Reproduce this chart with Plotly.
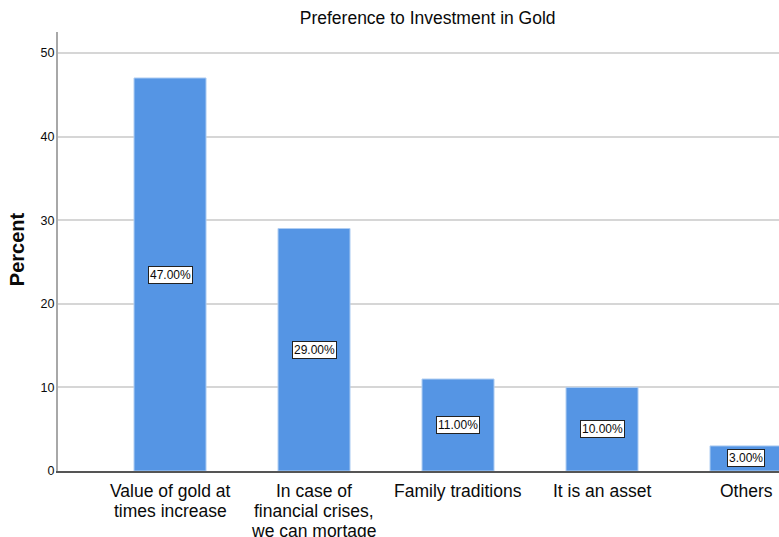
import plotly.graph_objects as go

# Survey responses: reasons for preferring investment in gold
categories = [
    "Value of gold at<br>times increase",
    "In case of<br>financial crises,<br>we can mortage",
    "Family traditions",
    "It is an asset",
    "Others",
]
percent = [47.0, 29.0, 11.0, 10.0, 3.0]
y_ticks = [0, 10, 20, 30, 40, 50]

FONT = "Liberation Sans, Arial, sans-serif"
BAR_FILL = "#5595E4"
BAR_EDGE = "#AFCDF2"
TEXT = "#0A0A0A"

fig = go.Figure()
fig.add_trace(go.Bar(
    x=list(range(len(categories))),
    y=percent,
    width=0.5,
    marker=dict(color=BAR_FILL, line=dict(color=BAR_EDGE, width=1)),
    hoverinfo="skip",
))

# Boxed value labels in the middle of each bar
for i, v in enumerate(percent):
    fig.add_annotation(
        x=i, y=v / 2, xref="x", yref="y",
        text=f"{v:.2f}%", showarrow=False,
        font=dict(family=FONT, size=12, color=TEXT),
        bgcolor="white", bordercolor="#222222", borderwidth=1, borderpad=1,
    )

# Category labels under the axis, one line at a time for tight line spacing
for i, label in enumerate(categories):
    for k, line in enumerate(label.split("<br>")):
        fig.add_annotation(
            x=i, y=0, xref="x", yref="y",
            text=line, showarrow=False,
            font=dict(family=FONT, size=17.5, color=TEXT),
            xanchor="center", yanchor="middle",
            borderpad=0,
            yshift=-(20 + 20 * k),
        )

# Vertical axis title
fig.add_annotation(
    x=-0.057, y=0.505, xref="paper", yref="paper",
    text="<b>Percent</b>", textangle=-90, showarrow=False,
    font=dict(family=FONT, size=20, color=TEXT),
    xanchor="center", yanchor="middle",
)

fig.update_layout(
    width=779, height=537,
    margin=dict(l=58, r=0, t=32, b=66),
    paper_bgcolor="white", plot_bgcolor="white",
    showlegend=False,
    title=dict(
        text="Preference to Investment in Gold",
        x=0.549, xref="container", xanchor="center",
        y=0.966, yref="container", yanchor="middle",
        font=dict(family=FONT, size=17.5, color=TEXT),
    ),
    xaxis=dict(
        range=[-0.778, 4.229],
        showticklabels=False,
        showgrid=False, zeroline=False,
        showline=True, linecolor="#555555", linewidth=2,
        ticks="",
        automargin=False,
    ),
    yaxis=dict(
        range=[0, 52.5],
        tickmode="array", tickvals=y_ticks,
        showgrid=True, gridcolor="#D6D6D6", gridwidth=2,
        zeroline=False,
        showline=True, linecolor="#A8A8A8", linewidth=2,
        ticks="", ticklabelstandoff=-1,
        tickfont=dict(family=FONT, size=12.5, color=TEXT),
        automargin=False,
    ),
)

fig.write_html("out.html")
